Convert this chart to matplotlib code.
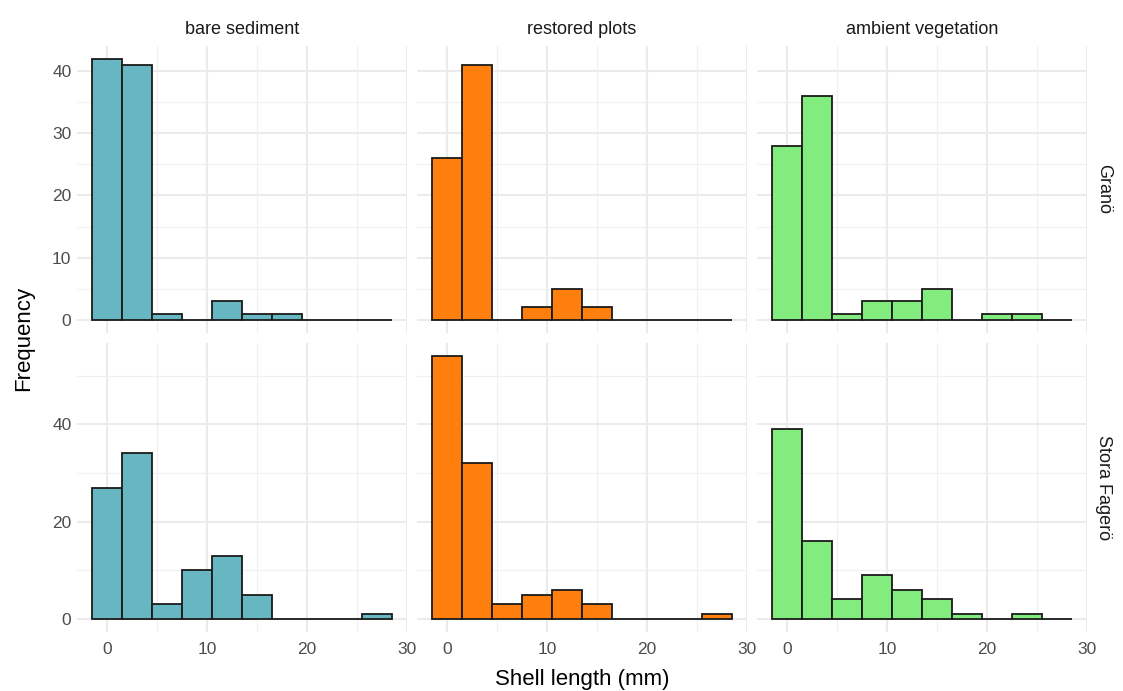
import numpy as np
import matplotlib.pyplot as plt
from matplotlib.ticker import MultipleLocator

plt.rcParams['font.family'] = ['Liberation Sans', 'DejaVu Sans']

# bin centres (binwidth 3 mm)
bin_centres = [0, 3, 6, 9, 12, 15, 18, 21, 24, 27]
treatments = ["bare sediment", "restored plots", "ambient vegetation"]
sites = ["Granö", "Stora Fagerö"]
colors = ["#67B7C2", "#FF7F0E", "#82EC7E"]

grano_bare = [42, 41, 1, 0, 3, 1, 1, 0, 0, 0]
grano_restored = [26, 41, 0, 2, 5, 2, 0, 0, 0, 0]
grano_ambient = [28, 36, 1, 3, 3, 5, 0, 1, 1, 0]
stora_bare = [27, 34, 3, 10, 13, 5, 0, 0, 0, 1]
stora_restored = [54, 32, 3, 5, 6, 3, 0, 0, 0, 1]
stora_ambient = [39, 16, 4, 9, 6, 4, 1, 0, 1, 0]

counts = [[grano_bare, grano_restored, grano_ambient],
          [stora_bare, stora_restored, stora_ambient]]

fig = plt.figure(figsize=(11.23, 6.91), dpi=100)
W, H = 1123, 691
lefts = [77, 417, 757]
pw = 330
rows = [(45.5, 333), (343, 632)]

row_ylim = [(-2.1, 44.1), (-2.7, 56.7)]
row_major = [10, 20]

for r in range(2):
    top, bot = rows[r]
    for c in range(3):
        ax = fig.add_axes([lefts[c] / W, 1 - bot / H, pw / W, (bot - top) / H])
        ax.set_axisbelow(True)
        ax.bar(bin_centres, counts[r][c], width=3, color=colors[c],
               edgecolor="#1a1a1a", linewidth=1.3)
        ax.set_xlim(-3, 30)
        ax.set_ylim(*row_ylim[r])
        ax.xaxis.set_major_locator(MultipleLocator(10))
        ax.xaxis.set_minor_locator(MultipleLocator(5))
        ax.yaxis.set_major_locator(MultipleLocator(row_major[r]))
        ax.yaxis.set_minor_locator(MultipleLocator(row_major[r] / 2))
        ax.grid(which="major", color="#EBEBEB", linewidth=1.5)
        ax.grid(which="minor", color="#F0F0F0", linewidth=0.9)
        for s in ax.spines.values():
            s.set_visible(False)
        ax.tick_params(which="both", length=0, labelsize=12.5,
                       labelcolor="#4D4D4D")
        ax.tick_params(axis="x", pad=7)
        ax.tick_params(axis="y", pad=4)
        if r == 0:
            ax.set_xticklabels([])
            ax.set_title(treatments[c], fontsize=13, color="#1A1A1A", pad=8)
        if c > 0:
            ax.set_yticklabels([])
        if c == 2:
            ax.text(1.05, 0.5, sites[r], transform=ax.transAxes, rotation=270,
                    ha="center", va="center", fontsize=13, color="#1A1A1A")

fig.text(24 / W, 1 - 338 / H, "Frequency", rotation=90, ha="center",
         va="center", fontsize=16, color="#000000")
fig.text(582 / W, 1 - 680 / H, "Shell length (mm)", ha="center",
         va="center", fontsize=16, color="#000000")

fig.savefig("out.png", dpi=100)
